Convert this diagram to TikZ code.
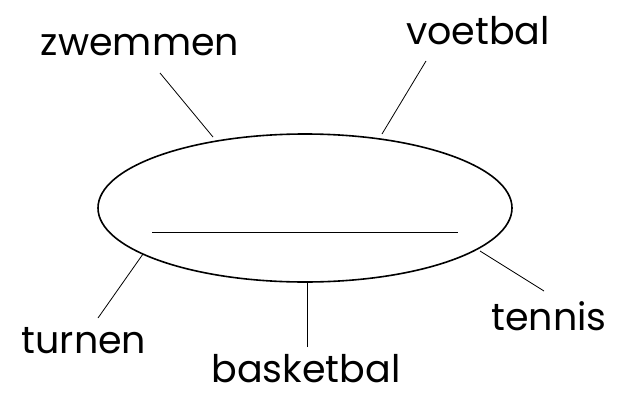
\documentclass[tikz,border=0pt]{standalone}
\usepackage{fontspec}
\setmainfont{Poppins}
\usetikzlibrary{shapes.geometric}
\begin{document}
\begin{tikzpicture}[x=1pt,y=-1pt,
  lbl/.style={anchor=base, inner sep=0pt, font=\fontsize{38}{40}\selectfont},
  conn/.style={line width=0.8pt}]
\useasboundingbox (0,0) rectangle (619,394);
\node[ellipse, draw, line width=1.6pt, minimum width=414pt, minimum height=148pt, inner sep=0pt] (e) at (305,208) {};
\coordinate (l1) at (152,232);
\coordinate (l2) at (458,232);
\draw[conn] (l1) -- (l2);
\node[lbl] (zw) at (140,55) {zwemmen};
\node[lbl] (vo) at (478,44) {voetbal};
\node[lbl] (tu) at (84,353) {turnen};
\node[lbl] (ba) at (306,382) {basketbal};
\node[lbl] (te) at (549,330) {tennis};
\coordinate (zwa) at (160,73);
\coordinate (zwb) at (213,137);
\coordinate (voa) at (426,61);
\coordinate (vob) at (382,134);
\coordinate (tua) at (98,318);
\coordinate (tub) at (143,254);
\coordinate (baa) at (307,347);
\coordinate (bab) at (307,282);
\coordinate (tea) at (544,291);
\coordinate (teb) at (480,251);
\draw[conn] (zwa) -- (zwb);
\draw[conn] (voa) -- (vob);
\draw[conn] (tua) -- (tub);
\draw[conn] (baa) -- (bab);
\draw[conn] (tea) -- (teb);
\end{tikzpicture}
\end{document}
